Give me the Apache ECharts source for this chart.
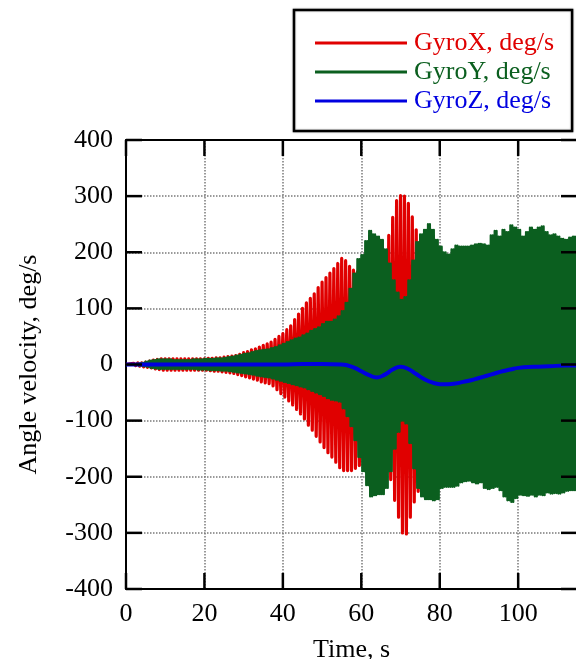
<!DOCTYPE html>
<html>
<head>
<meta charset="utf-8">
<script src="https://cdn.jsdelivr.net/npm/echarts@6/dist/echarts.min.js"></script>
<style>
html,body{margin:0;padding:0;background:#fff;}
#chart{width:576px;height:659px;}
</style>
</head>
<body>
<div id="chart"></div>
<script>
// ---- data ----
const seriesNames = ['GyroX, deg/s', 'GyroY, deg/s', 'GyroZ, deg/s'];
const xTicks = [0, 20, 40, 60, 80, 100];
const yTicks = [-400, -300, -200, -100, 0, 100, 200, 300, 400];

// Oscillation envelopes sampled once per second (t = 0, 1, 2, ...)
const gyroXHigh = [0,1,2,3,3,4,6,8,9,10,10,10,10,10,10,10,10,10,10,10,10,11,11,12,12,13,14,15,16,18,21,23,26,28,31,34,37,40,45,50,55,62,69,80,90,100,110,118,126,137,147,155,163,171,180,189,185,175,168,165,160,160,160,160,165,170,190,230,262,292,301,300,287,263,240,210,180,150,120,90,60];
const gyroXLow = [0,-1,-2,-3,-4,-5,-6,-8,-9,-10,-10,-10,-10,-10,-10,-10,-10,-10,-10,-10,-10,-11,-12,-12,-13,-14,-15,-16,-18,-20,-22,-24,-26,-28,-31,-33,-34,-38,-45,-52,-58,-65,-72,-80,-88,-97,-108,-117,-128,-138,-148,-157,-165,-174,-184,-189,-189,-189,-185,-180,-180,-180,-180,-180,-180,-180,-185,-205,-242,-272,-300,-302,-272,-245,-226,-200,-180,-150,-120,-90,-60];

const gyroYHigh = [0,1,1,2,3,5,7,8,9,9,9,9,8,8,8,8,8,9,9,9,10,10,10,11,11,12,13,14,16,17,19,20,22,24,25,26,27,29,31,34,37,40,43,46,48,52,55,60,63,66,72,76,76,80,86,95,110,135,162,188,195,220,238,232,228,222,205,180,150,128,115,120,150,185,218,232,240,250,240,222,210,200,196,205,212,210,210,210,212,214,215,214,212,230,238,228,240,236,248,244,240,228,236,244,240,244,246,236,230,232,228,224,222,226,228,226];
const gyroYLow = [0,-1,-1,-2,-3,-4,-6,-7,-8,-8,-8,-8,-8,-8,-8,-8,-8,-8,-9,-9,-9,-10,-10,-10,-11,-11,-12,-13,-14,-15,-16,-17,-18,-20,-21,-22,-23,-25,-27,-29,-31,-33,-35,-37,-39,-41,-44,-47,-50,-53,-56,-60,-63,-64,-66,-78,-92,-110,-135,-165,-190,-215,-235,-233,-231,-231,-220,-190,-150,-120,-100,-105,-140,-185,-220,-235,-240,-240,-242,-240,-220,-218,-218,-218,-216,-210,-208,-207,-210,-212,-210,-220,-222,-220,-218,-224,-235,-242,-245,-238,-232,-233,-234,-232,-235,-232,-233,-228,-230,-229,-230,-228,-225,-224,-224,-225];

const gyroZTime = [0,10,20,30,40,45,50,55,58,60,62,64,66,68,70,72,74,76,78,80,82,84,86,88,90,92,94,96,98,100,104,108,112,115];
const gyroZValue = [0,0,0,0,0,1,1,0,-5,-12,-19,-23,-18,-9,-4,-8,-17,-26,-32,-35,-35,-34,-31,-28,-24,-20,-16,-12,-9,-6,-4,-3,-2,-2];

// ---- build drawable series from the arrays ----
// each one-second envelope sample is drawn as `cycles` swings between its high and low value
function zigzag(high, low, cycles) {
  const out = [];
  const d = 1 / cycles;
  for (let i = 0; i < high.length; i++) {
    for (let c = 0; c < cycles; c++) {
      out.push([i + c * d, high[i]]);
      out.push([i + c * d + d / 2, low[i]]);
    }
  }
  return out;
}
const gyroZData = gyroZTime.map((t, i) => [t, gyroZValue[i]]);

const FONT = 'Liberation Serif';
const colors = ['#e00000', '#0b5f1f', '#0000e0'];
const X_MIN = 0, X_MAX = 115, Y_MIN = -400, Y_MAX = 400;
const TICK_LEN = 16;
const tickStyle = {stroke: '#000', lineWidth: 2.5};

const chart = echarts.init(document.getElementById('chart'), null, {renderer: 'canvas'});
const axisLine = () => ({show: true, onZero: false, lineStyle: {color: '#000', width: 2, type: 'solid'}});
const split = () => ({show: true, lineStyle: {color: '#7a7a7a', width: 1.5, type: 'dotted'}});

// inward ticks on all four sides, placed through the axis scales
function xTickItem(params, api) {
  const v = api.value(0);
  const b = api.coord([v, Y_MIN]);
  const t = api.coord([v, Y_MAX]);
  return {type: 'group', children: [
    {type: 'line', shape: {x1: b[0], y1: b[1], x2: b[0], y2: b[1] - TICK_LEN}, style: tickStyle},
    {type: 'line', shape: {x1: t[0], y1: t[1], x2: t[0], y2: t[1] + TICK_LEN}, style: tickStyle}
  ]};
}
function yTickItem(params, api) {
  const v = api.value(1);
  const l = api.coord([X_MIN, v]);
  const r = api.coord([X_MAX, v]);
  return {type: 'group', children: [
    {type: 'line', shape: {x1: l[0], y1: l[1], x2: l[0] + TICK_LEN, y2: l[1]}, style: tickStyle},
    {type: 'line', shape: {x1: r[0], y1: r[1], x2: r[0] - TICK_LEN, y2: r[1]}, style: tickStyle}
  ]};
}

chart.setOption({
  animation: false,
  backgroundColor: '#fff',
  grid: {left: 126, top: 140, width: 451, height: 449, containLabel: false, outerBoundsMode: 'none'},
  legend: {
    orient: 'vertical',
    left: 294, top: 10,
    padding: [20, 18, 17, 21],
    itemGap: 3,
    itemWidth: 92, itemHeight: 3,
    icon: 'rect',
    borderColor: '#000', borderWidth: 2.5,
    backgroundColor: '#fff',
    shadowColor: 'rgba(0,0,0,0.35)', shadowBlur: 2,
    textStyle: {fontFamily: FONT, fontSize: 26, padding: [0, 0, 0, 2]},
    data: seriesNames.map((n, i) => ({name: n, textStyle: {color: colors[i], fontFamily: FONT, fontSize: 26}}))
  },
  xAxis: [{
    type: 'value', min: X_MIN, max: X_MAX, interval: 20, position: 'bottom',
    name: 'Time, s', nameLocation: 'middle', nameGap: 48,
    nameTextStyle: {fontFamily: FONT, fontSize: 26, color: '#000'},
    axisLine: axisLine(), axisTick: {show: false}, splitLine: split(),
    axisLabel: {fontFamily: FONT, fontSize: 26, color: '#000', margin: 12, showMaxLabel: false,
      formatter: v => xTicks.includes(v) ? String(v) : ''}
  }, {
    type: 'value', min: X_MIN, max: X_MAX, interval: 20, position: 'top',
    axisLine: axisLine(), axisTick: {show: false}, splitLine: {show: false}, axisLabel: {show: false}
  }],
  yAxis: [{
    type: 'value', min: Y_MIN, max: Y_MAX, interval: 100, position: 'left',
    name: 'Angle velocity, deg/s', nameLocation: 'middle', nameGap: 84,
    nameTextStyle: {fontFamily: FONT, fontSize: 26, color: '#000'},
    axisLine: axisLine(), axisTick: {show: false}, splitLine: split(),
    axisLabel: {fontFamily: FONT, fontSize: 26, color: '#000', margin: 13,
      formatter: v => yTicks.includes(v) ? String(v) : ''}
  }, {
    type: 'value', min: Y_MIN, max: Y_MAX, interval: 100, position: 'right',
    axisLine: axisLine(), axisTick: {show: false}, splitLine: {show: false}, axisLabel: {show: false}
  }],
  series: [
    {name: seriesNames[0], type: 'line', data: zigzag(gyroXHigh, gyroXLow, 1), showSymbol: false, symbol: 'none',
     color: colors[0], lineStyle: {width: 3.2, color: colors[0], join: 'round'}, z: 2},
    {name: seriesNames[1], type: 'line', data: zigzag(gyroYHigh, gyroYLow, 2), showSymbol: false, symbol: 'none',
     color: colors[1], lineStyle: {width: 2.2, color: colors[1], join: 'round'}, z: 3},
    {name: seriesNames[2], type: 'line', data: gyroZData, smooth: true, showSymbol: false, symbol: 'none',
     color: colors[2], lineStyle: {width: 4, color: colors[2]}, z: 4},
    {name: 'xTicks', type: 'custom', data: xTicks.map(v => [v, 0]), renderItem: xTickItem,
     silent: true, z: 10, clip: false, tooltip: {show: false}},
    {name: 'yTicks', type: 'custom', data: yTicks.map(v => [0, v]), renderItem: yTickItem,
     silent: true, z: 10, clip: false, tooltip: {show: false}}
  ]
});
</script>
</body>
</html>
